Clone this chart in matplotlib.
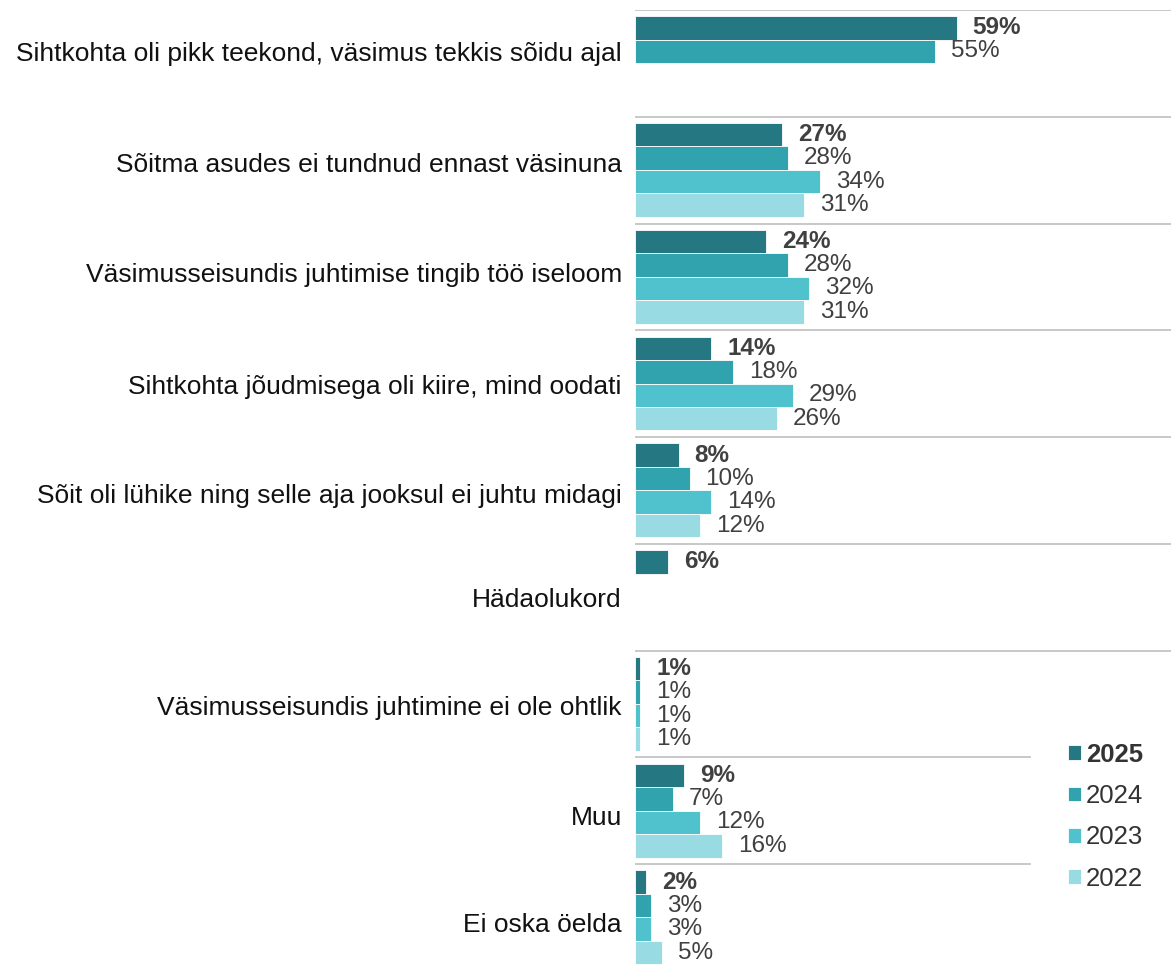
import numpy as np
import matplotlib
matplotlib.use("Agg")
import matplotlib.pyplot as plt

plt.rcParams['font.family'] = ['Liberation Sans', 'DejaVu Sans']

categories = [
    "Sihtkohta oli pikk teekond, väsimus tekkis sõidu ajal",
    "Sõitma asudes ei tundnud ennast väsinuna",
    "Väsimusseisundis juhtimise tingib töö iseloom",
    "Sihtkohta jõudmisega oli kiire, mind oodati",
    "Sõit oli lühike ning selle aja jooksul ei juhtu midagi",
    "Hädaolukord",
    "Väsimusseisundis juhtimine ei ole ohtlik",
    "Muu",
    "Ei oska öelda",
]
years = ["2025", "2024", "2023", "2022"]
v2025 = [59, 27, 24, 14, 8, 6, 1, 9, 2]
v2024 = [55, 28, 28, 18, 10, None, 1, 7, 3]
v2023 = [None, 34, 32, 29, 14, None, 1, 12, 3]
v2022 = [None, 31, 31, 26, 12, None, 1, 16, 5]
series = [v2025, v2024, v2023, v2022]
colors = ["#257782", "#31a3ae", "#4fc2cd", "#99dbe2"]

# layout: vertical position of each category label within its group (fraction)
label_pos = [0.39, 0.43, 0.46, 0.505, 0.53, 0.505, 0.515, 0.54, 0.55]

W, H = 1171, 971
fig = plt.figure(figsize=(W / 100, H / 100), dpi=100)
ax = fig.add_axes([635 / W, 0.0, 1 - 635 / W, 1 - 10 / H])

n = len(categories)
slot = 0.22
start = 0.058
fs = 17.5
fs_cat = 19
fs_leg = 18.5

handles = []
for j, (vals, col, yr) in enumerate(zip(series, colors, years)):
    idx = [i for i, v in enumerate(vals) if v is not None]
    widths = [vals[i] for i in idx]
    ys = [i + start + slot * j + slot / 2 for i in idx]
    cont = ax.barh(ys, widths, height=slot, color=col, edgecolor="white",
                   linewidth=0.6, label=yr)
    handles.append(cont)
    ax.bar_label(cont, labels=[f"{w}%" for w in widths], padding=11.5,
                 fontsize=fs, color="#404040",
                 fontweight="bold" if j == 0 else "normal")

for i in range(n):
    xmax = 0.737 if i >= 7 else 1.0
    ax.axhline(i, xmin=0, xmax=xmax, color="#c4c4c4", linewidth=1.3, zorder=0)

ax.set_xlim(0, 98.3)
ax.set_ylim(n, 0)
ax.set_yticks([i + p for i, p in enumerate(label_pos)])
ax.set_yticklabels(categories, fontsize=fs_cat, color="#111111")
ax.tick_params(axis="y", length=0, pad=9.5)
ax.set_xticks([])
for s in ax.spines.values():
    s.set_visible(False)

leg = ax.legend(handles=handles, labels=years, loc="upper left",
                bbox_to_anchor=((1068 - 635) / (W - 635), 1 - (742.5 - 10) / (H - 10)),
                frameon=False, fontsize=fs_leg, handlelength=0.5, handleheight=0.5,
                handletextpad=0.2, labelspacing=0.68, borderaxespad=0,
                borderpad=0)
for t in leg.get_texts():
    t.set_color("#333333")
leg.get_texts()[0].set_fontweight("bold")

fig.savefig("out.png", dpi=100)
